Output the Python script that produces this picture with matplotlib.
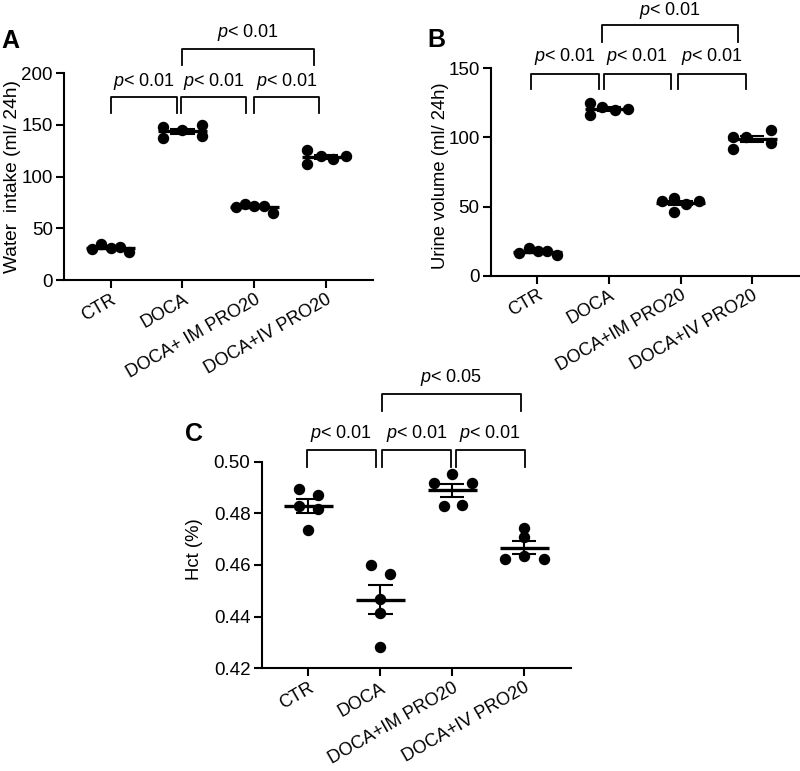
import numpy as np
import matplotlib
matplotlib.use("Agg")
import matplotlib.pyplot as plt

plt.rcParams["font.family"] = ["Liberation Sans", "DejaVu Sans"]
plt.rcParams["mathtext.fontset"] = "custom"
plt.rcParams["mathtext.it"] = "Liberation Sans:italic"
plt.rcParams["mathtext.rm"] = "Liberation Sans"

# ---- data ----
groups_a = ["CTR", "DOCA", "DOCA+ IM PRO20", "DOCA+IV PRO20"]
groups_bc = ["CTR", "DOCA", "DOCA+IM PRO20", "DOCA+IV PRO20"]

water_ctr = [29.7, 34.6, 30.7, 32.0, 27.4]
water_doca = [147.4, 137.0, 145.2, 149.8, 139.4]
water_im = [71.0, 73.9, 71.9, 71.9, 65.1]
water_iv = [125.2, 112.3, 119.7, 117.4, 120.0]

urine_ctr = [16.6, 19.8, 17.9, 17.9, 14.7]
urine_doca = [124.7, 116.1, 122.1, 119.7, 120.8]
urine_im = [54.1, 56.2, 46.1, 52.1, 54.1]
urine_iv = [100.6, 91.7, 100.1, 105.4, 96.2]

hct_ctr = [0.4893, 0.4870, 0.4830, 0.4817, 0.4734]
hct_doca = [0.4599, 0.4565, 0.4467, 0.4415, 0.4284]
hct_im = [0.4919, 0.4954, 0.4916, 0.4829, 0.4831]
hct_iv = [0.4745, 0.4707, 0.4636, 0.4623, 0.4623]

# horizontal scatter of the dots (layout only)
jit_a = [[-0.26, -0.13, 0, 0.13, 0.26], [-0.27, -0.27, 0, 0.27, 0.27],
         [-0.26, -0.13, 0, 0.13, 0.26], [-0.26, -0.26, -0.07, 0.09, 0.27]]
jit_b = [[-0.26, -0.12, 0.01, 0.14, 0.27], [-0.265, -0.265, -0.09, 0.08, 0.27],
         [-0.26, -0.09, -0.09, 0.075, 0.26], [-0.27, -0.27, -0.08, 0.26, 0.26]]
jit_c = [[-0.13, 0.135, -0.13, 0.135, 0], [-0.13, 0.135, 0, 0, 0],
         [-0.26, 0, 0.275, -0.12, 0.14], [0, 0, 0, -0.265, 0.27]]

LW = 1.5
FS = 13


def dot_plot(ax, series, jitter, ylim, yticks, labels, ticklabels=None):
    for i, (vals, jit) in enumerate(zip(series, jitter)):
        vals = np.asarray(vals)
        x = i + np.asarray(jit)
        ax.scatter(x, vals, s=52, color="black", zorder=3, clip_on=False)
        m = vals.mean()
        sem = vals.std(ddof=1) / np.sqrt(len(vals))
        ax.hlines(m, i - 0.34, i + 0.34, color="black", lw=2.4, zorder=4)
        ax.vlines(i, m - sem, m + sem, color="black", lw=LW, zorder=4)
        ax.hlines([m - sem, m + sem], i - 0.17, i + 0.17, color="black", lw=LW, zorder=4)
    ax.set_xlim(-0.65, 3.65)
    ax.set_ylim(*ylim)
    ax.set_yticks(yticks)
    if ticklabels is not None:
        ax.set_yticklabels(ticklabels)
    ax.set_xticks(range(len(labels)))
    ax.set_xticklabels(labels, rotation=30, ha="right", va="top",
                       rotation_mode="anchor", fontsize=13)
    ax.spines["top"].set_visible(False)
    ax.spines["right"].set_visible(False)
    ax.spines["left"].set_linewidth(LW)
    ax.spines["bottom"].set_linewidth(LW)
    ax.tick_params(length=6, width=LW, pad=2)
    ax.tick_params(axis="y", labelsize=13.5)


def bracket(ax, x0, x1, y, leg, ty, text):
    ax.plot([x0, x0, x1, x1], [y - leg, y, y, y - leg], color="black",
            lw=1.3, clip_on=False)
    ax.text((x0 + x1) / 2, ty, text, ha="center", va="center",
            fontsize=FS, clip_on=False)


P01 = r"$p$< 0.01"
P05 = r"$p$< 0.05"

fig = plt.figure(figsize=(8, 7.71), dpi=100)
ax_a = fig.add_axes([0.08, 0.6368, 0.386, 0.2685])
ax_b = fig.add_axes([0.6134, 0.6424, 0.385, 0.269])
ax_c = fig.add_axes([0.327, 0.1332, 0.3866, 0.268])

# panel A
dot_plot(ax_a, [water_ctr, water_doca, water_im, water_iv], jit_a,
         (0, 200), [0, 50, 100, 150, 200], groups_a)
ax_a.set_ylabel("Water  intake (ml/ 24h)", fontsize=13.8)
ax_a.yaxis.set_label_coords(-0.14, 0.5)
bracket(ax_a, 0.0, 0.92, 176.5, 14.8, 191.7, P01)
bracket(ax_a, 0.98, 1.89, 176.5, 14.8, 191.7, P01)
bracket(ax_a, 2.0, 2.9, 176.5, 14.8, 191.7, P01)
bracket(ax_a, 1.0, 2.83, 223.3, 15.3, 239.0, P01)

# panel B
dot_plot(ax_b, [urine_ctr, urine_doca, urine_im, urine_iv], jit_b,
         (0, 150), [0, 50, 100, 150], groups_bc)
ax_b.set_ylabel("Urine volume (ml/ 24h)", fontsize=13.3)
ax_b.yaxis.set_label_coords(-0.135, 0.48)
bracket(ax_b, -0.09, 0.86, 146.0, 11.1, 158.5, P01)
bracket(ax_b, 0.93, 1.87, 146.0, 11.1, 158.5, P01)
bracket(ax_b, 1.96, 2.92, 146.0, 11.1, 158.5, P01)
bracket(ax_b, 0.9, 2.8, 181.4, 12.1, 192.0, P01)

# panel C
dot_plot(ax_c, [hct_ctr, hct_doca, hct_im, hct_iv], jit_c,
         (0.42, 0.50), [0.42, 0.44, 0.46, 0.48, 0.50], groups_bc,
         ["0.42", "0.44", "0.46", "0.48", "0.50"])
ax_c.set_ylabel("Hct (%)", fontsize=13.3)
ax_c.yaxis.set_label_coords(-0.19, 0.577)
bracket(ax_c, -0.02, 0.94, 0.5044, 0.0066, 0.5110, P01)
bracket(ax_c, 1.02, 1.99, 0.5044, 0.0066, 0.5110, P01)
bracket(ax_c, 2.05, 3.01, 0.5044, 0.0066, 0.5110, P01)
bracket(ax_c, 1.02, 2.95, 0.5261, 0.0064, 0.5327, P05)

fig.text(0.0125, 0.947, "A", fontsize=18, fontweight="bold", ha="center", va="center")
fig.text(0.546, 0.948, "B", fontsize=18, fontweight="bold", ha="center", va="center")
fig.text(0.2425, 0.437, "C", fontsize=18, fontweight="bold", ha="center", va="center")

fig.savefig("out.png", dpi=100)
